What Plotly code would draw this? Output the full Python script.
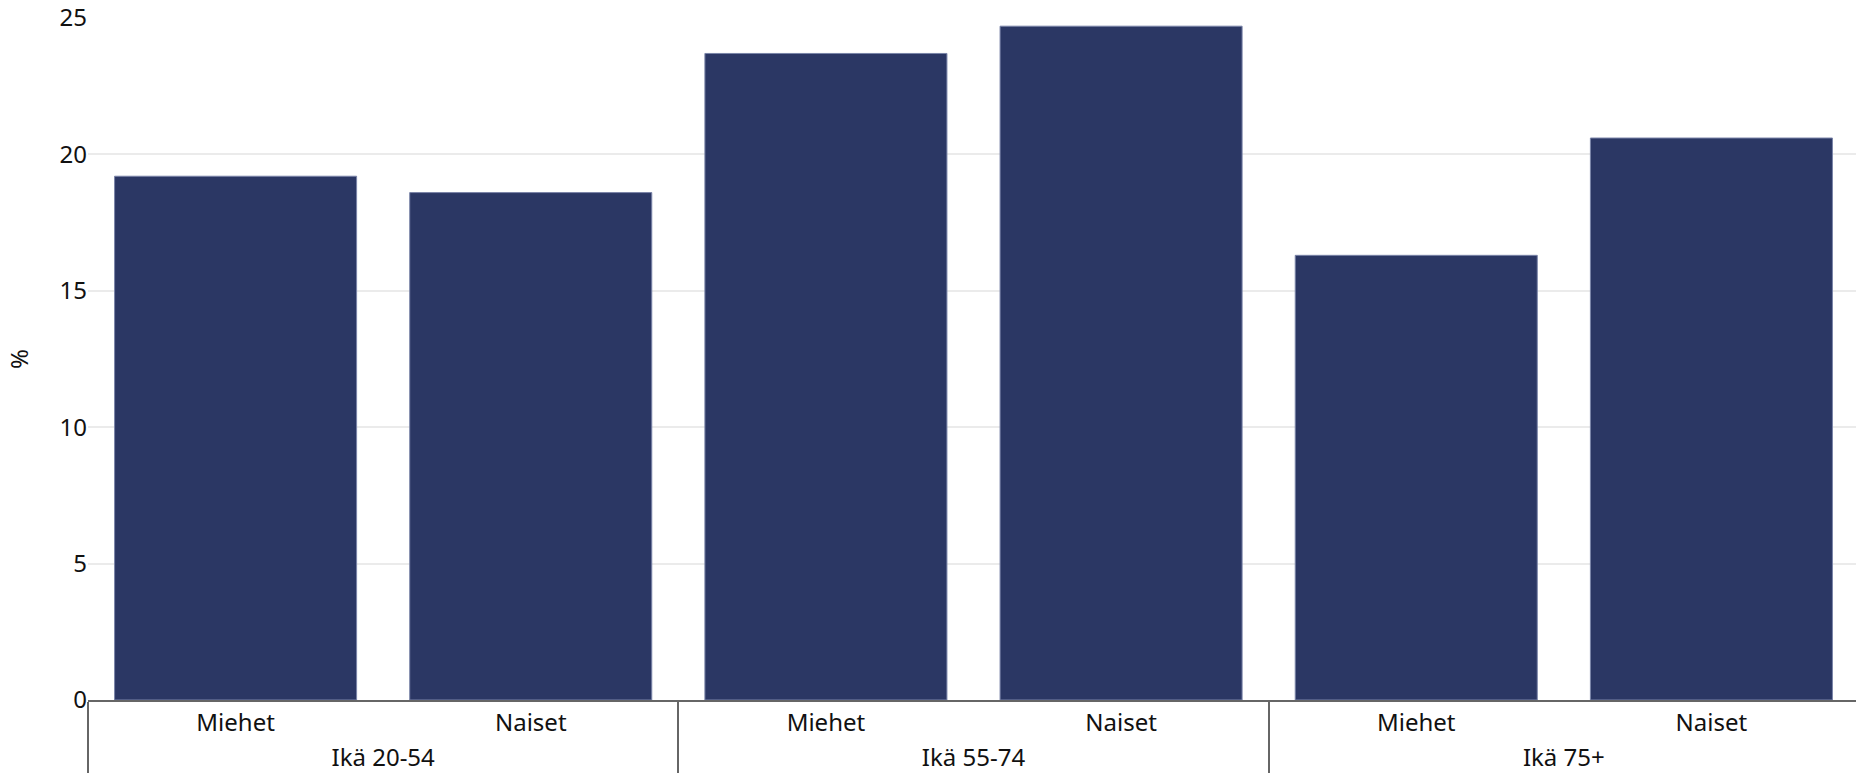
import plotly.graph_objects as go

age_groups = ["Ikä 20-54", "Ikä 20-54", "Ikä 55-74", "Ikä 55-74", "Ikä 75+", "Ikä 75+"]
sexes = ["Miehet", "Naiset", "Miehet", "Naiset", "Miehet", "Naiset"]
values = [19.2, 18.6, 23.7, 24.7, 16.3, 20.6]
y_ticks = [0, 5, 10, 15, 20, 25]

FONT = "'Noto Sans', Nunito, Lato, sans-serif"
FS = 24

fig = go.Figure(
    go.Bar(
        x=[age_groups, sexes],
        y=values,
        marker=dict(color="#2B3764", line=dict(color="#7A84A8", width=1)),
        hoverinfo="y",
    )
)

fig.update_layout(
    width=1859,
    height=780,
    margin=dict(l=88, r=0, t=18, b=80),
    plot_bgcolor="white",
    paper_bgcolor="white",
    bargap=0.18,
    showlegend=False,
    font=dict(family=FONT, size=FS, color="#111111"),
)

fig.update_xaxes(
    type="multicategory",
    automargin=False,
    showline=True,
    linecolor="#666666",
    linewidth=1.5,
    showdividers=True,
    dividercolor="#666666",
    dividerwidth=1.5,
    showgrid=False,
    tickfont=dict(family=FONT, size=FS, color="#111111"),
)

fig.update_yaxes(
    range=[0, 25],
    tickvals=y_ticks,
    automargin=False,
    showgrid=True,
    gridcolor="#EBEBEB",
    gridwidth=1.5,
    zeroline=False,
    showline=False,
    ticks="",
    title=dict(text="%", font=dict(family=FONT, size=FS), standoff=24),
    tickfont=dict(family=FONT, size=FS, color="#111111"),
)

fig.write_html(
    "out.html",
    config={"displayModeBar": False},
    post_script="document.body.style.margin='0';document.body.style.overflow='hidden';",
)
